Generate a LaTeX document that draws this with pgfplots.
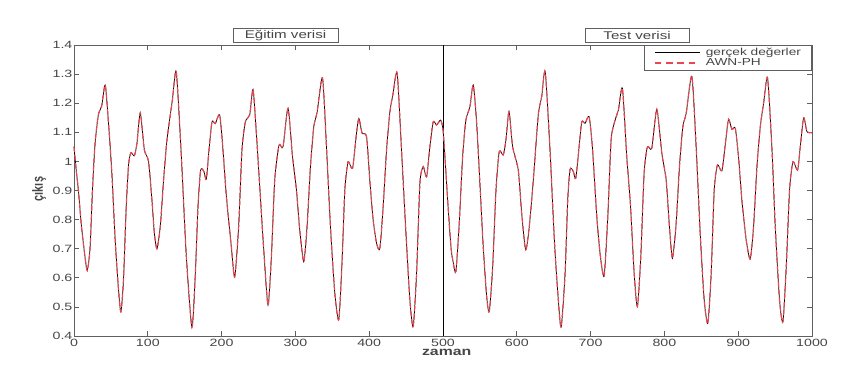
\documentclass[border=0pt]{standalone}
\usepackage{fontspec}
\setmainfont[FakeStretch=1.35]{Liberation Sans}
\newfontfamily\plainfont{Liberation Sans}
\usepackage{pgfplots}
\pgfplotsset{compat=1.18}
\usepackage{pgfplotstable}

\pgfplotstableread{
x y
0 1.05
3 0.97
6 0.90
10 0.78
15 0.67
18 0.625
21.7 0.70
25 0.90
28.5 1.06
33 1.16
37.5 1.19
42.3 1.263
46.8 1.13
51.3 0.96
55.8 0.73
60.3 0.56
63.5 0.483
67 0.59
70.7 0.84
74 0.99
77.2 1.03
81.7 1.019
85.3 1.062
89.8 1.167
95.3 1.04
101 1.0
105.6 0.867
108.9 0.753
112.4 0.70
116.9 0.776
121.4 0.936
126 1.074
133.3 1.211
138.6 1.308
145.4 1.02
152.2 0.674
159.8 0.43
164.4 0.614
168 0.844
171.6 0.97
176.1 0.965
179.3 0.938
182.9 1.039
187 1.136
191.5 1.13
197.4 1.16
201.9 1.039
206.5 0.879
213.2 0.707
217.7 0.602
223.1 0.776
227.6 1.039
232.2 1.136
238.1 1.16
242.6 1.248
247 1.10
252 0.90
257 0.70
262.9 0.506
267.5 0.674
272 0.936
277.8 1.056
283.2 1.05
290 1.182
296 1.019
301.4 0.902
305.9 0.764
311.3 0.655
315.8 0.776
320.4 0.982
324.9 1.119
329.4 1.169
336.7 1.287
342.1 1.05
347.5 0.776
353.4 0.547
358.8 0.456
363.3 0.661
367 0.902
371.4 0.999
377.4 0.976
382.8 1.097
386 1.148
390.4 1.097
396.4 1.085
400.8 0.936
405.3 0.80
409.9 0.72
414.4 0.70
418.9 0.844
423.5 1.039
428 1.169
432.4 1.234
437.9 1.303
443.8 1.039
449.3 0.776
455.1 0.524
459.6 0.432
464.2 0.616
468.7 0.925
473.2 0.982
477.8 0.947
482.2 1.05
486.7 1.136
491.3 1.125
496.7 1.142
500 1.11
503 1.0
507 0.84
511 0.70
514 0.65
517.5 0.622
522 0.787
526.6 1.016
531 1.142
536.5 1.188
541 1.263
545.6 1.131
550 0.925
554.5 0.707
559.2 0.535
562.7 0.483
567.3 0.638
571.8 0.902
576.2 1.033
581.6 1.022
585.3 1.074
589.4 1.171
594.4 1.05
602 0.97
606.6 0.822
612 0.696
616.9 0.776
622.4 0.936
629.1 1.16
633.7 1.222
638.5 1.308
645 1.039
650.9 0.73
655.5 0.55
660 0.43
665.4 0.614
669 0.867
672.2 0.973
676.6 0.965
679.9 0.942
684.4 1.05
688 1.136
692.5 1.131
697.9 1.154
702.4 1.05
708.4 0.81
713 0.68
718.3 0.606
723.3 0.81
727.8 1.074
733.2 1.142
737.7 1.177
743.1 1.251
749 1.016
754 0.85
759 0.616
763.4 0.501
768 0.672
772.5 0.959
777 1.05
782.9 1.045
789.7 1.179
796.5 1.028
802.4 0.936
806.8 0.776
810.9 0.667
815.9 0.787
820.4 0.982
825 1.119
829.5 1.165
837.2 1.293
843 1.05
848.5 0.753
853.9 0.524
858.9 0.444
863.4 0.616
867.5 0.902
871.9 0.988
877.9 0.968
883 1.07
886.9 1.145
891.5 1.11
896 1.114
900.4 1.016
905 0.867
910.8 0.73
916.3 0.664
920.8 0.776
925.4 0.982
929.9 1.119
934.4 1.2
939.8 1.287
945.8 1.039
950.2 0.776
956 0.524
960.6 0.449
965.1 0.638
969.6 0.902
974.2 0.999
980.4 0.97
984.1 1.05
988.6 1.15
993.2 1.102
998.6 1.099
1000 1.098
}\mgdata

\definecolor{axgray}{RGB}{95,95,95}
\definecolor{txtgray}{RGB}{70,70,70}
\definecolor{predred}{RGB}{235,70,80}

\begin{document}
\begin{tikzpicture}
\path[use as bounding box] (0,0) rectangle (639pt,273.75pt);
\begin{axis}[
  at={(55.5pt,21.75pt)}, anchor=south west,
  scale only axis, width=553.5pt, height=218.25pt,
  xmin=0, xmax=1000, ymin=0.4, ymax=1.4,
  xtick={0,100,...,1000},
  ytick={0.4,0.5,0.6,0.7,0.8,0.9,1.0,1.1,1.2,1.3,1.4},
  yticklabels={0.4,0.5,0.6,0.7,0.8,0.9,1,1.1,1.2,1.3,1.4},
  /pgf/number format/1000 sep={},
  tick align=inside, major tick length=3.5pt,
  axis line style={axgray, line width=0.6pt},
  every tick/.style={axgray, line width=0.5pt},
  ticklabel style={font=\fontsize{7.9}{8}\selectfont, text=txtgray},
  xticklabel style={inner sep=2.2pt},
  yticklabel style={inner sep=1pt},
  /pgf/number format/assume math mode=true,
  xlabel={\textbf{zaman}},
  xlabel style={font=\fontsize{8.8}{9}\selectfont, text=txtgray, inner sep=0pt,
    at={(rel axis cs:0.505,-0.058)}, anchor=center},
  ylabel={\scalebox{1}[1.35]{\plainfont\bfseries çıkış}},
  ylabel style={font=\fontsize{8.2}{9}\selectfont, text=txtgray, inner sep=0pt,
    at={(rel axis cs:-0.0474,0.505)}, anchor=center},
  clip=false,
  legend style={at={(1,1)}, anchor=north east, draw=axgray, fill=white,
    font=\fontsize{7.6}{8}\selectfont, text=txtgray,
    inner xsep=7.5pt, inner ysep=1.2pt, nodes={inner sep=0.6pt}, row sep=0pt,
    cells={anchor=west}},
  /tikz/every odd column/.append style={column sep=3.5pt},
]
\addplot[black, line width=0.7pt, forget plot] coordinates {(500,0.4) (500,1.4)};
\addplot[black, line width=0.55pt, smooth, tension=0.4,
  legend image code/.code={\draw[black, line width=0.75pt, solid] (0pt,0pt) -- (33.75pt,0pt);}]
  table[x=x,y=y] {\mgdata};
\addlegendentry{gerçek değerler}
\addplot[predred, line width=0.9pt, dash pattern=on 4pt off 2pt, smooth, tension=0.4,
  legend image code/.code={\draw[draw=predred, line width=1.1pt, dash pattern=on 5pt off 3.5pt] (0pt,0pt) -- (33.75pt,0pt);}]
  table[x=x,y=y] {\mgdata};
\addlegendentry{AWN-PH}
\node[draw=axgray, fill=white, minimum width=78.75pt, minimum height=10.5pt, inner sep=0pt,
  anchor=south, font=\fontsize{8.4}{9}\selectfont, text=txtgray]
  at (rel axis cs:0.2866,1) [yshift=1.5pt] {Eğitim verisi};
\node[draw=axgray, fill=white, minimum width=78pt, minimum height=10.5pt, inner sep=0pt,
  anchor=south, font=\fontsize{8.4}{9}\selectfont, text=txtgray]
  at (rel axis cs:0.763,1) [yshift=1.5pt] {Test verisi};
\end{axis}
\end{tikzpicture}
\end{document}
